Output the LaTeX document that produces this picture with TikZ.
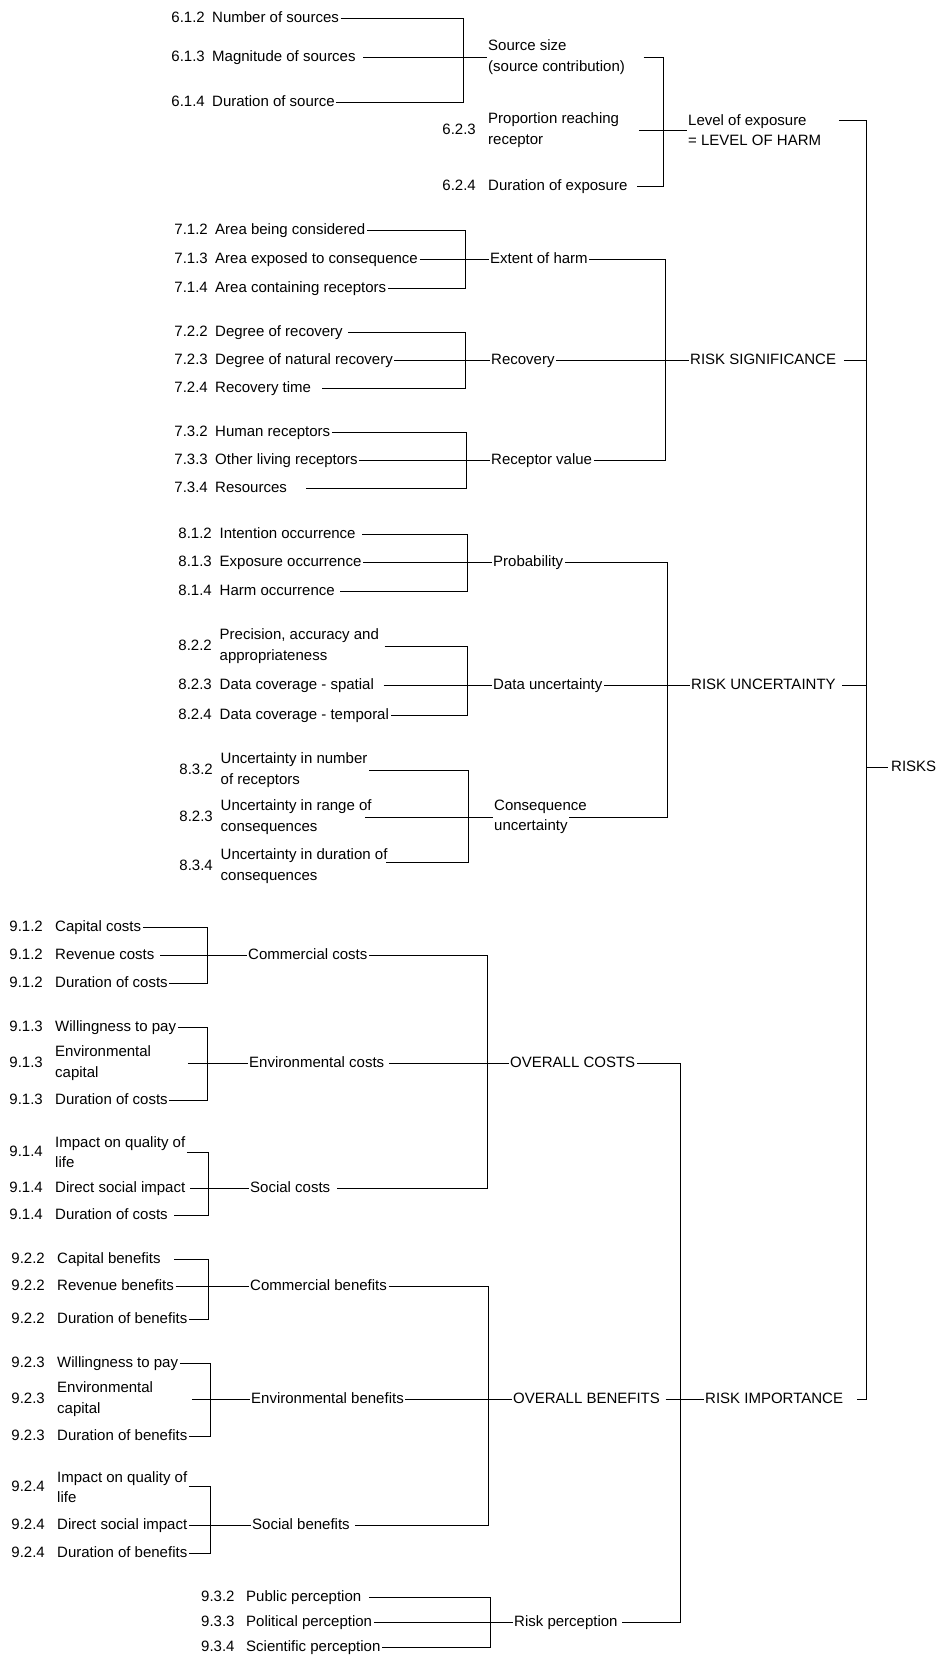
\documentclass[tikz,border=0pt]{standalone}
\usepackage{fontspec}
\setmainfont{Liberation Sans}
\usetikzlibrary{calc}
\begin{document}
\begin{tikzpicture}[x=1pt,y=-1pt,
  font=\fontsize{15}{20.5}\selectfont,
  t/.style={anchor=west,inner xsep=1.5pt,inner ysep=0pt,text height=11pt,text depth=3pt},
  m/.style={anchor=west,inner xsep=1.5pt,inner ysep=0pt,align=left},
  n/.style={anchor=east,inner sep=0pt,text height=11pt,text depth=3pt},
  nw/.style={anchor=west,inner sep=0pt,text height=11pt,text depth=3pt},
  ln/.style={line width=0.95pt}]
\useasboundingbox (0,0) rectangle (939,1658);

% ===== 6.1
\node[n] (n612) at (205,18) {6.1.2};  \node[t] (a1) at (210.5,18) {Number of sources};
\node[n] (n613) at (205,57) {6.1.3};  \node[t] (a2) at (210.5,57) {Magnitude of sources};
\node[n] (n614) at (205,102) {6.1.4}; \node[t] (a3) at (210.5,102) {Duration of source};
\coordinate (bA) at (463,0);
\node[m] (ss) at (486.5,57) {Source size\\(source contribution)};
\draw[ln] (a1.east) -- (a1.east -| bA) -- (a3.east -| bA) -- (a3.east);
\draw[ln,shorten <=6pt] (a2.east) -- (ss.west);

% ===== 6.2
\node[n] (n623) at (476,130) {6.2.3};
\node[m] (pr) at (486.5,130) {Proportion reaching\\receptor};
\node[n] (n624) at (476,186) {6.2.4};
\node[t] (de) at (486.5,186) {Duration of exposure};
\coordinate (bB) at (663,0);
\node[m] (le) at (686.5,130) {Level of exposure\\= LEVEL OF HARM};
\draw[ln,shorten <=17pt,shorten >=8pt] (ss.east) -- (ss.east -| bB) -- (de.east -| bB) -- (de.east);
\draw[ln,shorten <=18pt] (pr.east) -- (le.west);

% ===== 7.1
\node[n] (n712) at (208,230) {7.1.2}; \node[t] (b1) at (213.5,230) {Area being considered};
\node[n] (n713) at (208,259) {7.1.3}; \node[t] (b2) at (213.5,259) {Area exposed to consequence};
\node[n] (n714) at (208,288) {7.1.4}; \node[t] (b3) at (213.5,288) {Area containing receptors};
\coordinate (bC) at (465,0);
\node[t] (eh) at (488.5,259) {Extent of harm};
\draw[ln] (b1.east) -- (b1.east -| bC) -- (b3.east -| bC) -- (b3.east);
\draw[ln] (b2.east) -- (eh.west);

% ===== 7.2
\node[n] (n722) at (208,332) {7.2.2}; \node[t] (c1) at (213.5,332) {Degree of recovery};
\node[n] (n723) at (208,360) {7.2.3}; \node[t] (c2) at (213.5,360) {Degree of natural recovery};
\node[n] (n724) at (208,388) {7.2.4}; \node[t] (c3) at (213.5,388) {Recovery time};
\node[t] (rc) at (489.5,360) {Recovery};
\draw[ln,shorten <=4pt,shorten >=9pt] (c1.east) -- (c1.east -| bC) -- (c3.east -| bC) -- (c3.east);
\draw[ln] (c2.east) -- (rc.west);

% ===== 7.3
\node[n] (n732) at (208,432) {7.3.2}; \node[t] (d1) at (213.5,432) {Human receptors};
\node[n] (n733) at (208,460) {7.3.3}; \node[t] (d2) at (213.5,460) {Other living receptors};
\node[n] (n734) at (208,488) {7.3.4}; \node[t] (d3) at (213.5,488) {Resources};
\coordinate (bD) at (466,0);
\node[t] (rv) at (489.5,460) {Receptor value};
\draw[ln,shorten >=17pt] (d1.east) -- (d1.east -| bD) -- (d3.east -| bD) -- (d3.east);
\draw[ln] (d2.east) -- (rv.west);

% ===== 7 bracket
\coordinate (bE) at (665,0);
\node[t] (rs) at (688.5,360) {RISK SIGNIFICANCE};
\draw[ln] (eh.east) -- (eh.east -| bE) -- (rv.east -| bE) -- (rv.east);
\draw[ln] (rc.east) -- (rs.west);

% ===== 8.1
\node[n] (n812) at (212,534) {8.1.2}; \node[t] (e1) at (218,534) {Intention occurrence};
\node[n] (n813) at (212,562) {8.1.3}; \node[t] (e2) at (218,562) {Exposure occurrence};
\node[n] (n814) at (212,591) {8.1.4}; \node[t] (e3) at (218,591) {Harm occurrence};
\coordinate (bF) at (467,0);
\node[t] (pb) at (491.5,562) {Probability};
\draw[ln,shorten <=5pt,shorten >=4pt] (e1.east) -- (e1.east -| bF) -- (e3.east -| bF) -- (e3.east);
\draw[ln] (e2.east) -- (pb.west);

% ===== 8.2
\node[n] (n822) at (212,646) {8.2.2}; \node[m] (f1) at (218,646) {Precision, accuracy and\\appropriateness};
\node[n] (n823) at (212,685) {8.2.3}; \node[t] (f2) at (218,685) {Data coverage - spatial};
\node[n] (n824) at (212,715) {8.2.4}; \node[t] (f3) at (218,715) {Data coverage - temporal};
\node[t] (du) at (491.5,685) {Data uncertainty};
\draw[ln,shorten <=4pt] (f1.east) -- (f1.east -| bF) -- (f3.east -| bF) -- (f3.east);
\draw[ln,shorten <=8pt] (f2.east) -- (du.west);

% ===== 8.3
\node[n] (n832) at (213,770) {8.3.2}; \node[m] (g1) at (219,770) {Uncertainty in number\\of receptors};
\node[n] (n8232) at (213,817) {8.2.3}; \node[m] (g2) at (219,817) {Uncertainty in range of\\consequences};
\node[n] (n834) at (213,866) {8.3.4}; \node[m] (g3) at (219,866) {Uncertainty in duration of\\consequences};
\coordinate (bG) at (468,0);
\coordinate (g3o) at ($(g3.east)+(-3,-4)$);
\node[m] (cu) at (492.5,817) {Consequence\\uncertainty};
\draw[ln] (g1.east) -- (g1.east -| bG) -- (g3o -| bG) -- (g3o);
\draw[ln,shorten <=-8pt] (g2.east) -- (cu.west);

% ===== 8 bracket
\coordinate (bH) at (667,0);
\node[t] (ru) at (689.5,685) {RISK UNCERTAINTY};
\draw[ln,shorten >=-19pt] (pb.east) -- (pb.east -| bH) -- (cu.east -| bH) -- (cu.east);
\draw[ln] (du.east) -- (ru.west);

% ===== 9.1.2
\node[n] (n9121) at (43,927) {9.1.2}; \node[t] (h1) at (53.5,927) {Capital costs};
\node[n] (n9122) at (43,955) {9.1.2}; \node[t] (h2) at (53.5,955) {Revenue costs};
\node[n] (n9123) at (43,983) {9.1.2}; \node[t] (h3) at (53.5,983) {Duration of costs};
\coordinate (bI) at (207,0);
\node[t] (cc) at (246.5,955) {Commercial costs};
\draw[ln] (h1.east) -- (h1.east -| bI) -- (h3.east -| bI) -- (h3.east);
\draw[ln,shorten <=4pt] (h2.east) -- (cc.west);

% ===== 9.1.3
\node[n] (n9131) at (43,1027) {9.1.3}; \node[t] (i1) at (53.5,1027) {Willingness to pay};
\node[n] (n9132) at (43,1063) {9.1.3}; \node[m] (i2) at (53.5,1063) {Environmental\\capital};
\node[n] (n9133) at (43,1100) {9.1.3}; \node[t] (i3) at (53.5,1100) {Duration of costs};
\node[t] (ec) at (247.5,1063) {Environmental costs};
\coordinate (i2o) at ($(i2.east)+(35,0)$);
\draw[ln] (i1.east) -- (i1.east -| bI) -- (i3.east -| bI) -- (i3.east);
\draw[ln] (i2o) -- (ec.west);

% ===== 9.1.4
\node[n] (n9141) at (43,1152) {9.1.4}; \node[m] (j1) at (53.5,1152) {Impact on quality of\\life};
\node[n] (n9142) at (43,1188) {9.1.4}; \node[t] (j2) at (53.5,1188) {Direct social impact};
\node[n] (n9143) at (43,1215) {9.1.4}; \node[t] (j3) at (53.5,1215) {Duration of costs};
\coordinate (bJ) at (208,0);
\node[t] (sc) at (248.5,1188) {Social costs};
\draw[ln,shorten >=5pt] (j1.east) -- (j1.east -| bJ) -- (j3.east -| bJ) -- (j3.east);
\draw[ln,shorten <=3pt] (j2.east) -- (sc.west);

% ===== 9.1 bracket
\coordinate (bK) at (487,0);
\node[t] (oc) at (508.5,1063) {OVERALL COSTS};
\draw[ln,shorten >=5pt] (cc.east) -- (cc.east -| bK) -- (sc.east -| bK) -- (sc.east);
\draw[ln,shorten <=3pt] (ec.east) -- (oc.west);

% ===== 9.2.2
\node[n] (n9221) at (45,1259) {9.2.2}; \node[t] (k1) at (55.5,1259) {Capital benefits};
\node[n] (n9222) at (45,1286) {9.2.2}; \node[t] (k2) at (55.5,1286) {Revenue benefits};
\node[n] (n9223) at (45,1319) {9.2.2}; \node[t] (k3) at (55.5,1319) {Duration of benefits};
\coordinate (bL) at (208,0);
\node[t] (cb) at (248.5,1286) {Commercial benefits};
\draw[ln,shorten <=12pt] (k1.east) -- (k1.east -| bL) -- (k3.east -| bL) -- (k3.east);
\draw[ln] (k2.east) -- (cb.west);

% ===== 9.2.3
\node[n] (n9231) at (45,1363) {9.2.3}; \node[t] (l1) at (55.5,1363) {Willingness to pay};
\node[n] (n9232) at (45,1399) {9.2.3}; \node[m] (l2) at (55.5,1399) {Environmental\\capital};
\node[n] (n9233) at (45,1436) {9.2.3}; \node[t] (l3) at (55.5,1436) {Duration of benefits};
\coordinate (bM) at (210,0);
\node[t] (eb) at (249.5,1399) {Environmental benefits};
\coordinate (l2o) at ($(l2.east)+(37,0)$);
\draw[ln] (l1.east) -- (l1.east -| bM) -- (l3.east -| bM) -- (l3.east);
\draw[ln] (l2o) -- (eb.west);

% ===== 9.2.4
\node[n] (n9241) at (45,1487) {9.2.4}; \node[m] (o1) at (55.5,1487) {Impact on quality of\\life};
\node[n] (n9242) at (45,1525) {9.2.4}; \node[t] (o2) at (55.5,1525) {Direct social impact};
\node[n] (n9243) at (45,1553) {9.2.4}; \node[t] (o3) at (55.5,1553) {Duration of benefits};
\node[t] (sb) at (250.5,1525) {Social benefits};
\coordinate (o1o) at ($(o1.east)+(0,-1)$);
\draw[ln] (o1o) -- (o1o -| bM) -- (o3.east -| bM) -- (o3.east);
\draw[ln] (o2.east) -- (sb.west);

% ===== 9.2 bracket
\coordinate (bN) at (488,0);
\node[t] (ob) at (511.5,1399) {OVERALL BENEFITS};
\draw[ln,shorten >=4pt] (cb.east) -- (cb.east -| bN) -- (sb.east -| bN) -- (sb.east);
\draw[ln] (eb.east) -- (ob.west);

% ===== 9.3
\node[nw] (n932) at (201,1597) {9.3.2}; \node[t] (p1) at (244.5,1597) {Public perception};
\node[nw] (n933) at (201,1622) {9.3.3}; \node[t] (p2) at (244.5,1622) {Political perception};
\node[nw] (n934) at (201,1647) {9.3.4}; \node[t] (p3) at (244.5,1647) {Scientific perception};
\coordinate (bO) at (490,0);
\node[t] (rp) at (512.5,1622) {Risk perception};
\draw[ln,shorten <=6pt] (p1.east) -- (p1.east -| bO) -- (p3.east -| bO) -- (p3.east);
\draw[ln] (p2.east) -- (rp.west);

% ===== costs/benefits/perception bracket
\coordinate (bP) at (680,0);
\node[t] (ri) at (703.5,1399) {RISK IMPORTANCE};
\draw[ln,shorten >=3pt] (oc.east) -- (oc.east -| bP) -- (rp.east -| bP) -- (rp.east);
\draw[ln,shorten <=4pt] (ob.east) -- (ri.west);

% ===== RISKS bracket
\coordinate (bR) at (866,0);
\node[t] (rk) at (889.5,767) {RISKS};
\coordinate (leo) at ($(le.east)+(16,-10)$);
\draw[ln,shorten >=12pt] (leo) -- (leo -| bR) -- (ri.east -| bR) -- (ri.east);
\draw[ln,shorten <=6pt] (rs.east) -- (rs.east -| bR);
\draw[ln,shorten <=5pt] (ru.east) -- (ru.east -| bR);
\draw[ln,shorten >=2pt] (rk.west -| bR) -- (rk.west);
\end{tikzpicture}
\end{document}
